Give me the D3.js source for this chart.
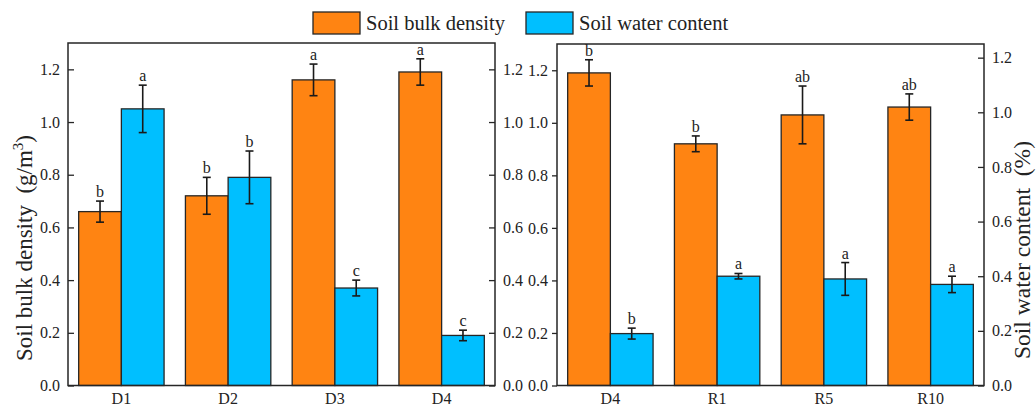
<!DOCTYPE html>
<html>
<head>
<meta charset="utf-8">
<script src="https://cdn.jsdelivr.net/npm/d3@7"></script>
<style>
  html, body { margin: 0; padding: 0; background: #fff; }
  svg { display: block; font-family: "Liberation Serif", "Times New Roman", serif; }
</style>
</head>
<body>
<svg id="chart" width="1036" height="410"></svg>
<script>
// Treatment groups for each panel
const groupsLeft = ["D1", "D2", "D3", "D4"];
const groupsRight = ["D4", "R1", "R5", "R10"];

// Soil bulk density (g/m3): mean, error, significance letter
const bulkLeft = [0.66, 0.72, 1.16, 1.19];
const bulkLeftErr = [0.04, 0.07, 0.06, 0.05];
const bulkLeftSig = ["b", "b", "a", "a"];
const bulkRight = [1.19, 0.92, 1.03, 1.06];
const bulkRightErr = [0.05, 0.03, 0.11, 0.05];
const bulkRightSig = ["b", "b", "ab", "ab"];

// Soil water content (%): mean, error, significance letter
const waterLeft = [1.05, 0.79, 0.37, 0.19];
const waterLeftErr = [0.09, 0.10, 0.03, 0.02];
const waterLeftSig = ["a", "b", "c", "c"];
const waterRight = [0.19, 0.40, 0.39, 0.37];
const waterRightErr = [0.02, 0.01, 0.06, 0.03];
const waterRightSig = ["b", "a", "a", "a"];

const tickValues = [0.0, 0.2, 0.4, 0.6, 0.8, 1.0, 1.2];
const seriesNames = ["Soil bulk density", "Soil water content"];
const seriesColors = ["#FF8412", "#00BFFF"];

const FONT = "Liberation Serif, Times New Roman, serif";
const svg = d3.select("#chart");
const bottom = 385.5;
const stroke = "#262626";

const leftPanel = { x0: 68, x1: 495, top: 43 };
const rightPanel = { x0: 557, x1: 984, top: 44 };

const yLeft = d3.scaleLinear().domain([0, 1.3]).range([bottom, leftPanel.top]);
const yRightL = d3.scaleLinear().domain([0, 1.3]).range([bottom, rightPanel.top]);
const yRightR = d3.scaleLinear().domain([0, 1.25]).range([bottom, rightPanel.top]);

function styleAxis(g) {
  g.attr("font-family", FONT).attr("font-size", 16);
  g.select(".domain").remove();
  g.selectAll(".tick line").attr("stroke", stroke).attr("stroke-width", 1.3);
  g.selectAll(".tick text")
    .attr("font-family", FONT)
    .attr("font-size", 16)
    .attr("fill", "#222");
}

function drawPanel(p, groups, series, yBulk, yWater) {
  const x = d3.scaleBand().domain(groups).range([p.x0, p.x1])
    .paddingInner(0.2).paddingOuter(0.1);
  const xs = d3.scaleBand().domain([0, 1]).range([0, x.bandwidth()]);
  const scales = [yBulk, yWater];
  const g = svg.append("g");

  series.forEach((s, si) => {
    const y = scales[si];
    const sg = g.append("g");
    sg.selectAll("rect").data(s.values).join("rect")
      .attr("x", (d, i) => x(groups[i]) + xs(si))
      .attr("y", d => y(d))
      .attr("width", xs.bandwidth())
      .attr("height", d => bottom - y(d))
      .attr("fill", seriesColors[si])
      .attr("stroke", stroke)
      .attr("stroke-width", 1.3);

    const cx = i => x(groups[i]) + xs(si) + xs.bandwidth() / 2;
    const eb = sg.append("g").attr("stroke", "#1a1a1a").attr("stroke-width", 1.6);
    s.values.forEach((v, i) => {
      const e = s.err[i];
      const c = cx(i);
      eb.append("line").attr("x1", c).attr("x2", c).attr("y1", y(v + e)).attr("y2", y(v - e));
      eb.append("line").attr("x1", c - 4).attr("x2", c + 4).attr("y1", y(v + e)).attr("y2", y(v + e));
      eb.append("line").attr("x1", c - 4).attr("x2", c + 4).attr("y1", y(v - e)).attr("y2", y(v - e));
    });
    sg.selectAll("text.sig").data(s.sig).join("text")
      .attr("class", "sig")
      .attr("x", (d, i) => cx(i))
      .attr("y", (d, i) => y(s.values[i] + s.err[i]) - 4)
      .attr("text-anchor", "middle")
      .attr("font-family", FONT)
      .attr("font-size", 16)
      .attr("fill", "#222")
      .text(d => d);
  });

  // Category labels
  g.selectAll("text.cat").data(groups).join("text")
    .attr("class", "cat")
    .attr("x", d => x(d) + x.bandwidth() / 2)
    .attr("y", 404)
    .attr("text-anchor", "middle")
    .attr("font-family", FONT)
    .attr("font-size", 16)
    .attr("fill", "#222")
    .text(d => d);

  // Panel frame
  g.append("rect")
    .attr("x", p.x0).attr("y", p.top)
    .attr("width", p.x1 - p.x0).attr("height", bottom - p.top)
    .attr("fill", "none").attr("stroke", stroke).attr("stroke-width", 1.5);
  return g;
}

drawPanel(leftPanel, groupsLeft, [
  { values: bulkLeft, err: bulkLeftErr, sig: bulkLeftSig },
  { values: waterLeft, err: waterLeftErr, sig: waterLeftSig }
], yLeft, yLeft);

drawPanel(rightPanel, groupsRight, [
  { values: bulkRight, err: bulkRightErr, sig: bulkRightSig },
  { values: waterRight, err: waterRightErr, sig: waterRightSig }
], yRightL, yRightR);

const fmt = d3.format(".1f");

// Left panel: inward ticks on both sides
svg.append("g").attr("transform", `translate(${leftPanel.x0},0)`)
  .call(d3.axisLeft(yLeft).tickValues(tickValues).tickFormat(fmt).tickSize(-6).tickPadding(8))
  .call(styleAxis);
svg.append("g").attr("transform", `translate(${leftPanel.x1},0)`)
  .call(d3.axisRight(yLeft).tickValues(tickValues).tickFormat(fmt).tickSize(-6).tickPadding(8))
  .call(styleAxis);

// Right panel: outward ticks on the left, inward on the water content axis
svg.append("g").attr("transform", `translate(${rightPanel.x0},0)`)
  .call(d3.axisLeft(yRightL).tickValues(tickValues).tickFormat(fmt).tickSize(5).tickPadding(4))
  .call(styleAxis);
svg.append("g").attr("transform", `translate(${rightPanel.x1},0)`)
  .call(d3.axisRight(yRightR).tickValues(tickValues).tickFormat(fmt).tickSize(-6).tickPadding(8))
  .call(styleAxis);

// Axis titles
const titleL = svg.append("text")
  .attr("transform", "translate(32,248) rotate(-90)")
  .attr("text-anchor", "middle")
  .attr("font-family", FONT)
  .attr("font-size", 23)
  .attr("fill", "#222");
titleL.append("tspan").text("Soil bulk density\u00A0\u00A0(g/m");
titleL.append("tspan").attr("font-size", 15).attr("dy", -9).text("3");
titleL.append("tspan").attr("dy", 9).text(")");

svg.append("text")
  .attr("transform", "translate(1030,250) rotate(-90)")
  .attr("text-anchor", "middle")
  .attr("font-family", FONT)
  .attr("font-size", 23.5)
  .attr("fill", "#222")
  .text("Soil water content\u00A0\u00A0(%)");

// Legend
const legend = svg.append("g");
const legendX = [313, 526];
seriesNames.forEach((name, i) => {
  legend.append("rect")
    .attr("x", legendX[i]).attr("y", 12)
    .attr("width", 47).attr("height", 22)
    .attr("fill", seriesColors[i])
    .attr("stroke", stroke).attr("stroke-width", 1.3);
  legend.append("text")
    .attr("x", legendX[i] + 53).attr("y", 29.5)
    .attr("font-family", FONT)
    .attr("font-size", 20.5)
    .attr("fill", "#222")
    .text(name);
});
</script>
</body>
</html>
